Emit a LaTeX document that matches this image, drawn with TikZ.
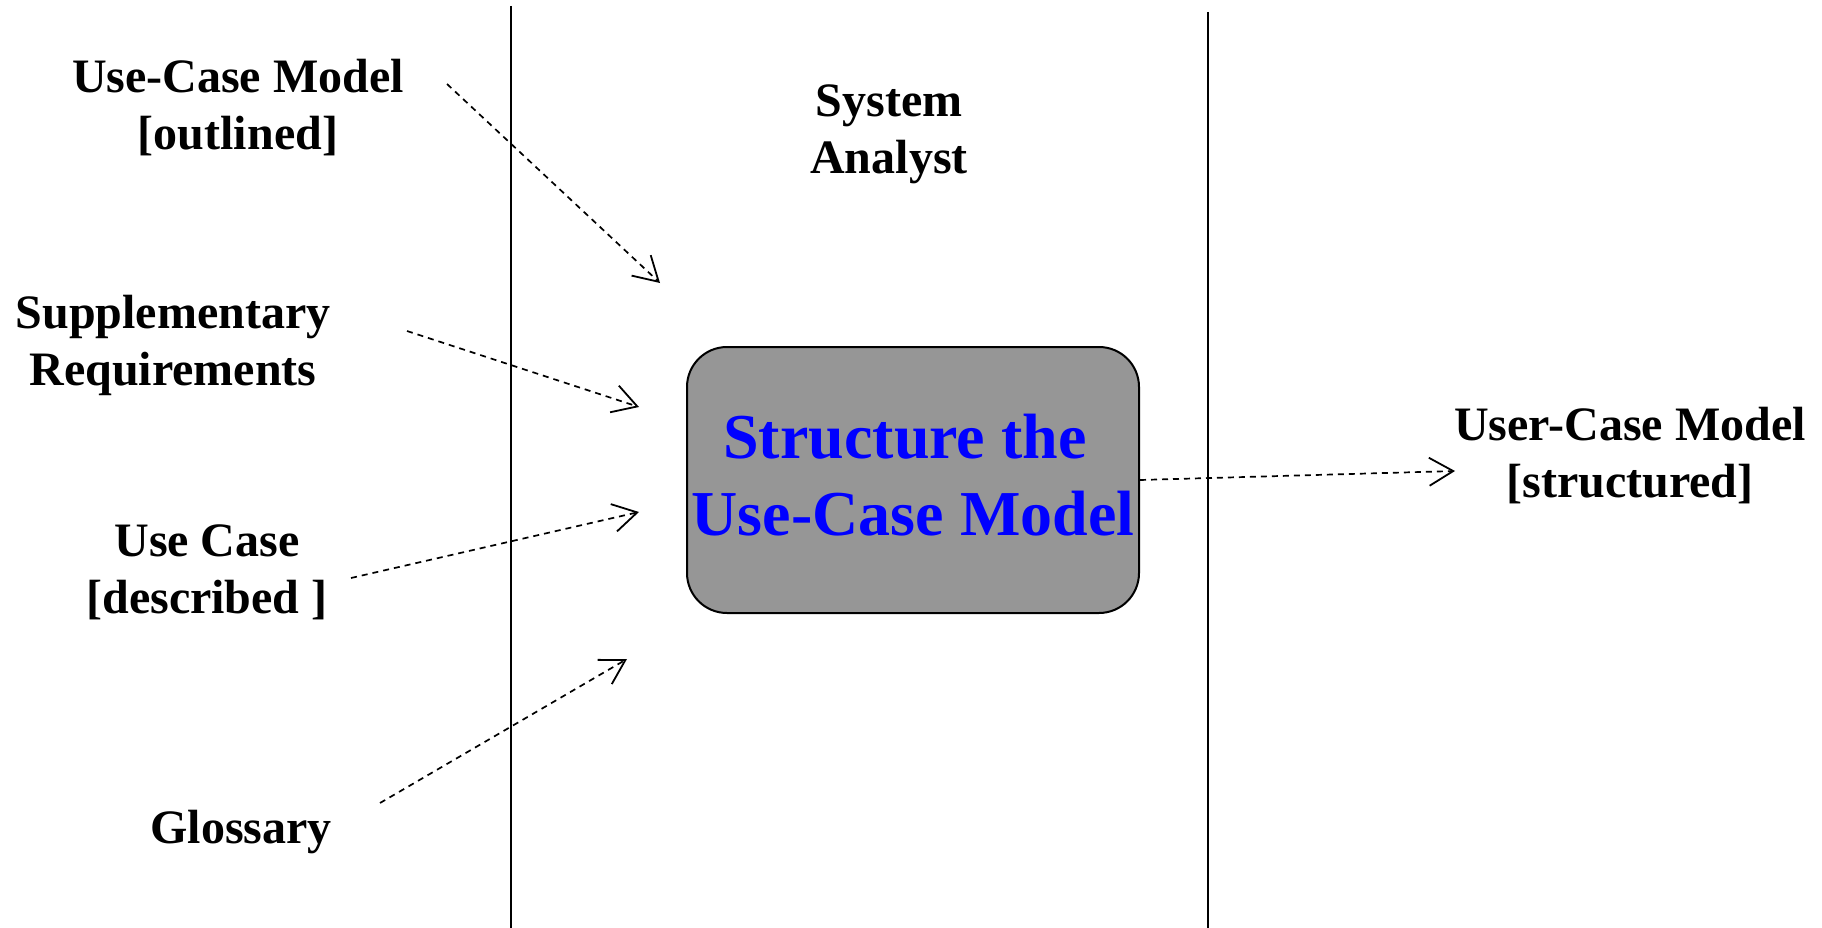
\documentclass[tikz,border=0pt]{standalone}
\usepackage{fontspec}
\setmainfont{Liberation Serif}
\usetikzlibrary{arrows.meta}
\definecolor{boxgray}{RGB}{150,150,150}
\definecolor{textblue}{RGB}{0,0,255}
\begin{document}
\begin{tikzpicture}[x=1pt,y=-1pt,
  lbl/.style={font=\fontsize{48}{57}\selectfont\bfseries, align=center, inner sep=0pt, anchor=base},
  flow/.style={dash pattern=on 6pt off 5pt, line width=1.7pt,
    -{Straight Barb[length=24pt,width=28pt,line width=1.8pt]}},
  lane/.style={line width=2pt},
  activity/.style={draw, line width=2pt, fill=boxgray, rounded corners=40pt,
    minimum width=452pt, minimum height=266pt, inner sep=0pt, align=center,
    text depth=10pt,
    text=textblue, font=\fontsize{64}{77}\selectfont\bfseries}]
\useasboundingbox (0,0) rectangle (1822,928);
\fill[white] (0,0) rectangle (1822,928);
% swimlane separators
\coordinate (l1t) at (511,6);   \coordinate (l1b) at (511,928);
\coordinate (l2t) at (1208,12); \coordinate (l2b) at (1208,928);
\draw[lane] (l1t) -- (l1b);
\draw[lane] (l2t) -- (l2b);
% labels (base anchor = baseline of last line)
\node[lbl] (uc)  at (238,150) {Use-Case Model\\{[}outlined{]}};
\node[lbl] (sup) at (173,385) {Supplementary\\Requirements};
\node[lbl] (ucd) at (207,613) {Use Case\\{[}described {]}};
\node[lbl] (glo) at (241,843) {Glossary};
\node[lbl] (sa)  at (889,174) {System\\Analyst};
\node[lbl] (out) at (1630,497) {User-Case Model\\{[}structured{]}};
% activity
\node[activity] (act) at (913,480) {Structure the\kern16pt\\Use-Case Model};
% connector ends
\coordinate (s1) at (447,84);  \coordinate (t1) at (660,283);
\coordinate (s2) at (407,331); \coordinate (t2) at (639,407);
\coordinate (s3) at (351,578); \coordinate (t3) at (639,512);
\coordinate (s4) at (380,803); \coordinate (t4) at (627,659);
\coordinate (t5) at (1455,471);
\draw[flow] (s1) -- (t1);
\draw[flow] (s2) -- (t2);
\draw[flow] (s3) -- (t3);
\draw[flow] (s4) -- (t4);
\draw[flow] (act.east) -- (t5);
\end{tikzpicture}
\end{document}
